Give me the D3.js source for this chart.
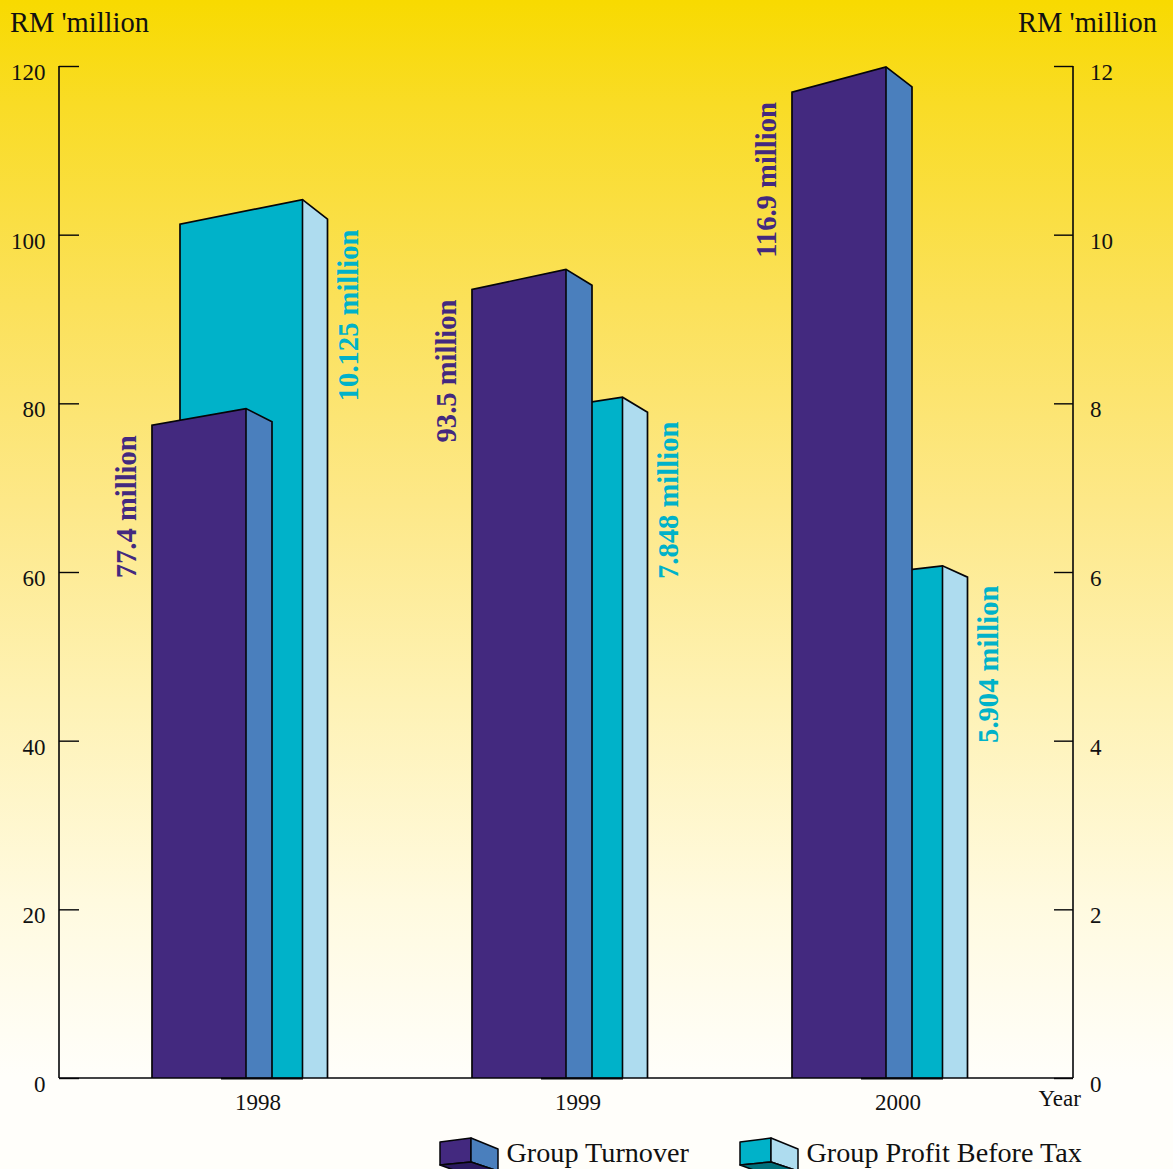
<!DOCTYPE html>
<html>
<head>
<meta charset="utf-8">
<script src="https://cdn.jsdelivr.net/npm/d3@7"></script>
<style>
  html, body { margin: 0; padding: 0; background: #fffefa; }
  svg { display: block; }
  text { font-family: "Liberation Serif", "Times New Roman", serif; fill: #111; }
</style>
</head>
<body>
<svg id="chart" width="1173" height="1169"></svg>
<script>
// Group results, financial years 1998 to 2000
const years = ["1998", "1999", "2000"];
const turnover = [77.4, 93.5, 116.9];       // RM million, left axis
const profit = [10.125, 7.848, 5.904];      // RM million, right axis
const turnoverTicks = [0, 20, 40, 60, 80, 100, 120];
const profitTicks = [0, 2, 4, 6, 8, 10, 12];
const legendLabels = ["Group Turnover", "Group Profit Before Tax"];

const purple = { front: "#43297f", side: "#4a7fbd", under: "#2b1a60", text: "#43297f" };
const cyan = { front: "#00b2c9", side: "#aedcef", under: "#00707c", text: "#00b2c9" };
const ink = "#050508";

const svg = d3.select("#chart");
const plot = { left: 59, right: 1073, top: 66, bottom: 1078 };

// Page background fades from strong yellow at the top to near white
const grad = svg.append("defs").append("linearGradient")
  .attr("id", "bg").attr("x1", 0).attr("y1", 0).attr("x2", 0).attr("y2", 1);
[[0, "#f8da00"], [0.09, "#f9dc26"], [0.26, "#fbe15a"], [0.43, "#fde888"],
 [0.6, "#fef2b5"], [0.77, "#fffadf"], [0.92, "#fffefa"], [1, "#fffefa"]]
  .forEach(([o, c]) => grad.append("stop").attr("offset", o).attr("stop-color", c));
svg.append("rect").attr("width", 1173).attr("height", 1169).attr("fill", "url(#bg)");

const x = d3.scaleBand().domain(years).range([98, 1058]);
const yLeft = d3.scaleLinear().domain([0, 120]).range([plot.bottom, plot.top]);
const yRight = d3.scaleLinear().domain([0, 12]).range([plot.bottom, plot.top]);

// Draws one faux-perspective column: the value sits at the front face's left
// top corner, and the roof rises and falls in proportion to the column height.
function column(g, left, frontW, sideW, yTop, rise, drop, colours) {
  const base = plot.bottom;
  const h = base - yTop;
  const xr = left + frontW;
  const yPeak = yTop - h * rise;
  const ySide = yPeak + h * drop;
  g.append("path")
    .attr("d", d3.line()([[left, base], [left, yTop], [xr, yPeak], [xr, base]]) + "Z")
    .attr("fill", colours.front);
  g.append("path")
    .attr("d", d3.line()([[xr, base], [xr, yPeak], [xr + sideW, ySide], [xr + sideW, base]]) + "Z")
    .attr("fill", colours.side);
  g.append("path")
    .attr("d", d3.line()([[left, base], [left, yTop], [xr, yPeak], [xr + sideW, ySide], [xr + sideW, base]]))
    .attr("fill", "none").attr("stroke", ink).attr("stroke-width", 1.7);
  g.append("line")
    .attr("x1", xr).attr("x2", xr).attr("y1", yPeak).attr("y2", base)
    .attr("stroke", ink).attr("stroke-width", 1.6);
}

function valueLabel(g, bx, by, text, colour) {
  g.append("text")
    .attr("transform", `translate(${bx},${by}) rotate(-90)`)
    .attr("text-anchor", "end")
    .attr("font-size", 28.6).attr("font-weight", "bold")
    .style("fill", colour)
    .text(text);
}

const axisG = svg.append("g");

const columns = svg.append("g");
years.forEach((yr, i) => {
  const c = x(yr) + x.bandwidth() / 2;
  const g = columns.append("g");
  const pLeft = c - 106;
  const cLeft = c - 78;

  column(g, cLeft, 122.5, 25, yRight(profit[i]), 0.0287, 0.0228, cyan);
  column(g, pLeft, 94, 26, yLeft(turnover[i]), 0.0256, 0.0202, purple);

  // heavier foot under the inner part of the group
  g.append("line")
    .attr("x1", pLeft + 69).attr("x2", cLeft + 123)
    .attr("y1", plot.bottom + 0.5).attr("y2", plot.bottom + 0.5)
    .attr("stroke", ink).attr("stroke-width", 2);

  valueLabel(g, pLeft - 16, yLeft(turnover[i]) + 10, `${turnover[i]} million`, purple.text);
  valueLabel(g, cLeft + 148 + 30, yRight(profit[i]) + 5.5, `${profit[i]} million`, cyan.text);
});

// Axes: ticks point inward, numerals sit a little below their tick
const leftAxis = d3.axisLeft(yLeft).tickValues(turnoverTicks).tickSize(-20).tickPadding(13.5);
const rightAxis = d3.axisRight(yRight).tickValues(profitTicks).tickSize(-19).tickPadding(17);
const bottomAxis = d3.axisBottom(x).tickSize(0).tickPadding(19);

const gl = axisG.append("g").attr("transform", `translate(${plot.left},0)`).call(leftAxis);
const gr = axisG.append("g").attr("transform", `translate(${plot.right},0)`).call(rightAxis);
[gl, gr].forEach(a => {
  a.selectAll("text").attr("dy", 13.5).attr("font-size", 23);
  a.selectAll("line").attr("stroke", ink).attr("stroke-width", 1.4);
  a.select(".domain").attr("d", `M0,${plot.top}V${plot.bottom}`).attr("stroke", ink).attr("stroke-width", 1.6);
  a.attr("font-family", null);
});

const gb = svg.append("g").attr("transform", `translate(0,${plot.bottom})`).call(bottomAxis);
gb.attr("font-family", null);
gb.select(".domain").attr("d", `M${plot.left},0H${plot.right}`).attr("stroke", ink).attr("stroke-width", 1.6);
gb.selectAll("text").attr("font-size", 23).attr("dy", 13);

svg.append("text").attr("x", 10).attr("y", 32).attr("font-size", 28.5).text("RM 'million");
svg.append("text").attr("x", 1157).attr("y", 32).attr("font-size", 28.5).attr("text-anchor", "end").text("RM 'million");
svg.append("text").attr("x", 1038.5).attr("y", 1106).attr("font-size", 23).text("Year");

// Legend: small solid blocks seen slightly from below
const legend = svg.append("g");
[[440, purple], [740, cyan]].forEach(([lx, colours], i) => {
  const g = legend.append("g").attr("transform", `translate(${lx},1138)`);
  const faces = [
    [[[0, 4], [31, 0], [31, 24], [0, 27]], colours.front],
    [[[31, 0], [58, 11], [58, 33], [31, 24]], colours.side],
    [[[0, 27], [31, 24], [58, 33], [30, 38]], colours.under]
  ];
  faces.forEach(([pts, fill]) => g.append("path")
    .attr("d", d3.line()(pts) + "Z")
    .attr("fill", fill).attr("stroke", ink).attr("stroke-width", 1.5)
    .attr("stroke-linejoin", "round"));
  g.append("text").attr("x", 66.5).attr("y", 24).attr("font-size", 28.2).text(legendLabels[i]);
});
</script>
</body>
</html>
